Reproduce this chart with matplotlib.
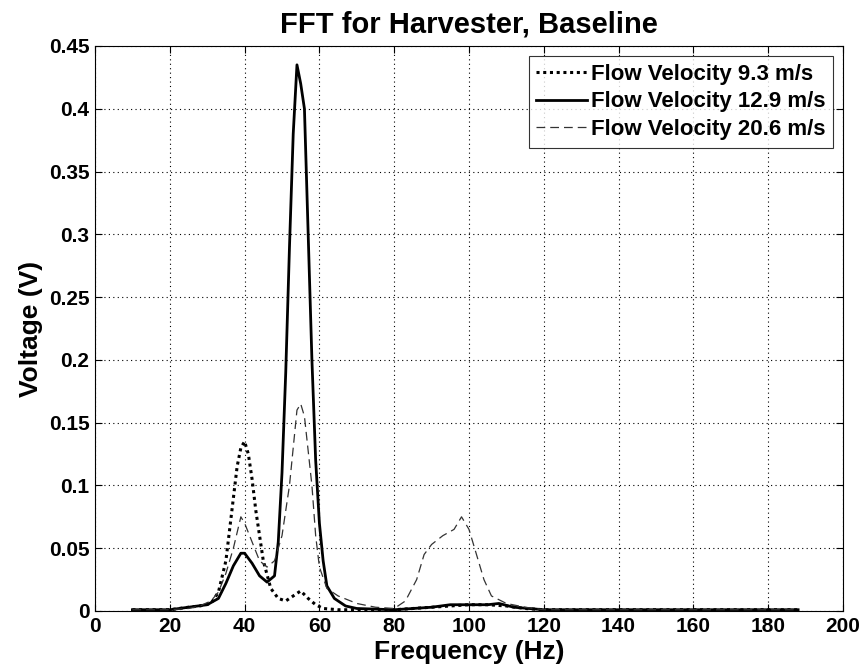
import numpy as np
import matplotlib
matplotlib.use("Agg")
import matplotlib.pyplot as plt

plt.rcParams['font.family'] = ['Liberation Sans', 'DejaVu Sans']
plt.rcParams['font.weight'] = 'bold'

# frequency (Hz) and voltage (V)
f_93 = [10, 20, 25, 28, 31, 33, 35, 37, 38, 39, 40, 41, 42, 43, 45, 47, 49, 51, 53, 55, 57, 59, 61, 65, 70, 80, 90, 95, 100, 105, 110, 115, 120, 140, 160, 188]
v_93 = [0.001, 0.001, 0.003, 0.004, 0.006, 0.015, 0.04, 0.09, 0.115, 0.13, 0.135, 0.125, 0.105, 0.08, 0.04, 0.018, 0.01, 0.008, 0.012, 0.016, 0.01, 0.005, 0.002, 0.001, 0.001, 0.001, 0.003, 0.004, 0.005, 0.005, 0.004, 0.002, 0.001, 0.001, 0.001, 0.001]

f_129 = [10, 20, 25, 30, 33, 35, 37, 39, 40, 42, 44, 46, 48, 49, 50, 51, 52, 53, 54, 55, 56, 57, 58, 59, 60, 61, 62, 64, 67, 70, 80, 90, 95, 100, 105, 108, 112, 120, 140, 160, 188]
v_129 = [0.001, 0.001, 0.003, 0.005, 0.01, 0.022, 0.036, 0.046, 0.046, 0.038, 0.028, 0.023, 0.028, 0.055, 0.11, 0.19, 0.29, 0.38, 0.435, 0.42, 0.4, 0.3, 0.2, 0.12, 0.07, 0.04, 0.02, 0.01, 0.004, 0.002, 0.001, 0.003, 0.005, 0.005, 0.005, 0.006, 0.003, 0.001, 0.001, 0.001, 0.001]

f_206 = [10, 20, 25, 28, 31, 33, 35, 37, 39, 40, 42, 44, 46, 48, 50, 52, 54, 55, 56, 58, 59, 60, 62, 65, 70, 75, 80, 83, 86, 88, 90, 93, 96, 98, 100, 102, 104, 106, 110, 115, 120, 140, 160, 188]
v_206 = [0.001, 0.001, 0.002, 0.004, 0.008, 0.015, 0.03, 0.05, 0.075, 0.07, 0.055, 0.04, 0.035, 0.04, 0.06, 0.1, 0.16, 0.165, 0.155, 0.1, 0.06, 0.035, 0.018, 0.012, 0.006, 0.003, 0.002, 0.008, 0.025, 0.045, 0.053, 0.06, 0.065, 0.075, 0.065, 0.045, 0.025, 0.012, 0.006, 0.003, 0.001, 0.001, 0.001, 0.001]

labels = ['Flow Velocity 9.3 m/s', 'Flow Velocity 12.9 m/s', 'Flow Velocity 20.6 m/s']

fig = plt.figure(figsize=(8.63, 6.70), dpi=100)
ax = fig.add_axes([95/863, 1 - 611/670, 748/863, 565/670])

ax.plot(f_93, v_93, color='black', linestyle=(0, (1, 1.2)), linewidth=2.2, label=labels[0])
ax.plot(f_129, v_129, color='black', linestyle='-', linewidth=2.0, label=labels[1])
ax.plot(f_206, v_206, color='#333333', linestyle=(0, (7, 4)), linewidth=0.9, label=labels[2])

ax.set_xlim(0, 200)
ax.set_ylim(0, 0.45)
ax.set_xticks(np.arange(0, 201, 20))
ax.set_yticks(np.arange(0, 0.451, 0.05))
ax.set_yticklabels(['0', '0.05', '0.1', '0.15', '0.2', '0.25', '0.3', '0.35', '0.4', '0.45'])
ax.grid(True, color='black', linestyle=(0, (1, 3)), linewidth=0.8)
ax.tick_params(direction='in', top=True, right=True, labelsize=15, length=5, width=0.8, pad=4)
for s in ax.spines.values():
    s.set_linewidth(0.8)

ax.set_xlabel('Frequency (Hz)', fontsize=19, fontweight='bold', labelpad=3)
ax.set_ylabel('Voltage (V)', fontsize=19, fontweight='bold', labelpad=4)
ax.set_title('FFT for Harvester, Baseline', fontsize=21, fontweight='bold', pad=10)

leg = ax.legend(loc='upper right', prop={'size': 16, 'weight': 'bold'}, frameon=True, fancybox=False,
                edgecolor='black', handlelength=2.3, handletextpad=0.15, borderaxespad=0.45,
                labelspacing=0.3, borderpad=0.35)
leg.get_frame().set_linewidth(0.8)

fig.savefig('out.png', dpi=100)
